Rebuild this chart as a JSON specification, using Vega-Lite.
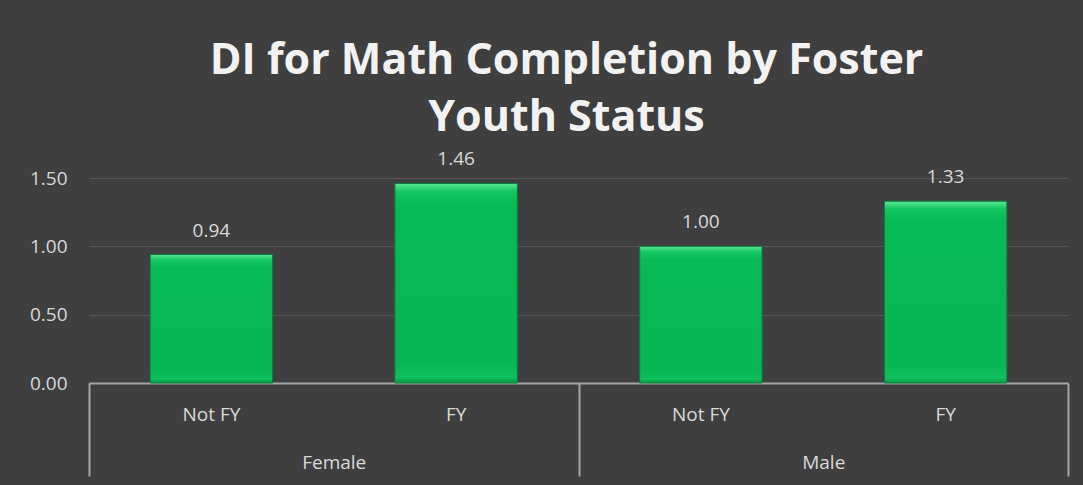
{
  "$schema": "https://vega.github.io/schema/vega-lite/v6.json",
  "width": 979,
  "height": 205,
  "autosize": {"type": "none"},
  "padding": {"left": 89, "top": 178, "right": 15, "bottom": 102},
  "background": "#3f3f3f",
  "title": {
    "text": ["DI for Math Completion by Foster", "Youth Status"],
    "font": "Open Sans",
    "fontSize": 43,
    "fontWeight": "bold",
    "color": "#f2f2f2",
    "anchor": "middle",
    "lineHeight": 57,
    "offset": 10,
    "dx": -12
  },
  "config": {
    "view": {"stroke": null},
    "axis": {"labelFont": "Open Sans", "labelColor": "#d9d9d9", "labelFontSize": 19}
  },
  "data": {
    "values": [
      {"key": "Female|Not FY", "group": "Female", "status": "Not FY", "di": 0.94},
      {"key": "Female|FY", "group": "Female", "status": "FY", "di": 1.46},
      {"key": "Male|Not FY", "group": "Male", "status": "Not FY", "di": 1.00},
      {"key": "Male|FY", "group": "Male", "status": "FY", "di": 1.33}
    ]
  },
  "layer": [
    {
      "layer": [
        {
          "mark": {
            "type": "bar",
            "width": {"band": 0.5},
            "stroke": "#08803c",
            "strokeWidth": 1,
            "color": {
              "gradient": "linear",
              "x1": 0, "y1": 0, "x2": 0, "y2": 1,
              "stops": [
                {"offset": 0, "color": "#5be895"},
                {"offset": 0.04, "color": "#16c862"},
                {"offset": 0.1, "color": "#07ba56"},
                {"offset": 0.9, "color": "#07b654"},
                {"offset": 0.97, "color": "#0fc05c"},
                {"offset": 1, "color": "#0a9c48"}
              ]
            }
          },
          "encoding": {
            "x": {
              "field": "key", "type": "nominal", "sort": null,
              "scale": {"paddingInner": 0, "paddingOuter": 0},
              "axis": {
                "title": null,
                "labelExpr": "split(datum.label, '|')[1]",
                "labelAngle": 0,
                "labelBaseline": "middle",
                "labelPadding": 31,
                "ticks": false,
                "domainColor": "#a6a6a6",
                "domainWidth": 2
              }
            },
            "y": {
              "field": "di", "type": "quantitative",
              "scale": {"domain": [0, 1.5], "nice": false},
              "axis": {
                "title": null,
                "values": [0, 0.5, 1, 1.5],
                "format": ".2f",
                "domain": false,
                "ticks": false,
                "labelPadding": 22,
                "labelBaseline": "middle",
                "gridColor": "#ffffff",
                "gridOpacity": 0.12,
                "gridWidth": 1
              }
            }
          }
        },
        {
          "mark": {"type": "text", "font": "Open Sans", "fontSize": 19, "color": "#d9d9d9", "baseline": "middle", "dy": -24},
          "encoding": {
            "x": {"field": "key", "type": "nominal", "sort": null},
            "y": {"field": "di", "type": "quantitative"},
            "text": {"field": "di", "type": "quantitative", "format": ".2f"}
          }
        }
      ]
    },
    {
      "mark": {"type": "point", "opacity": 0},
      "encoding": {
        "x": {
          "field": "group", "type": "nominal", "sort": null,
          "scale": {"paddingInner": 0, "paddingOuter": 0},
          "axis": {
            "title": null,
            "orient": "bottom",
            "labelAngle": 0,
            "domain": false,
            "grid": false,
            "ticks": true,
            "tickBand": "extent",
            "tickSize": 93,
            "tickColor": "#a6a6a6",
            "tickWidth": 2,
            "labelBaseline": "middle",
            "labelPadding": -14
          }
        }
      }
    }
  ],
  "resolve": {"scale": {"x": "independent"}, "axis": {"x": "independent"}}
}
